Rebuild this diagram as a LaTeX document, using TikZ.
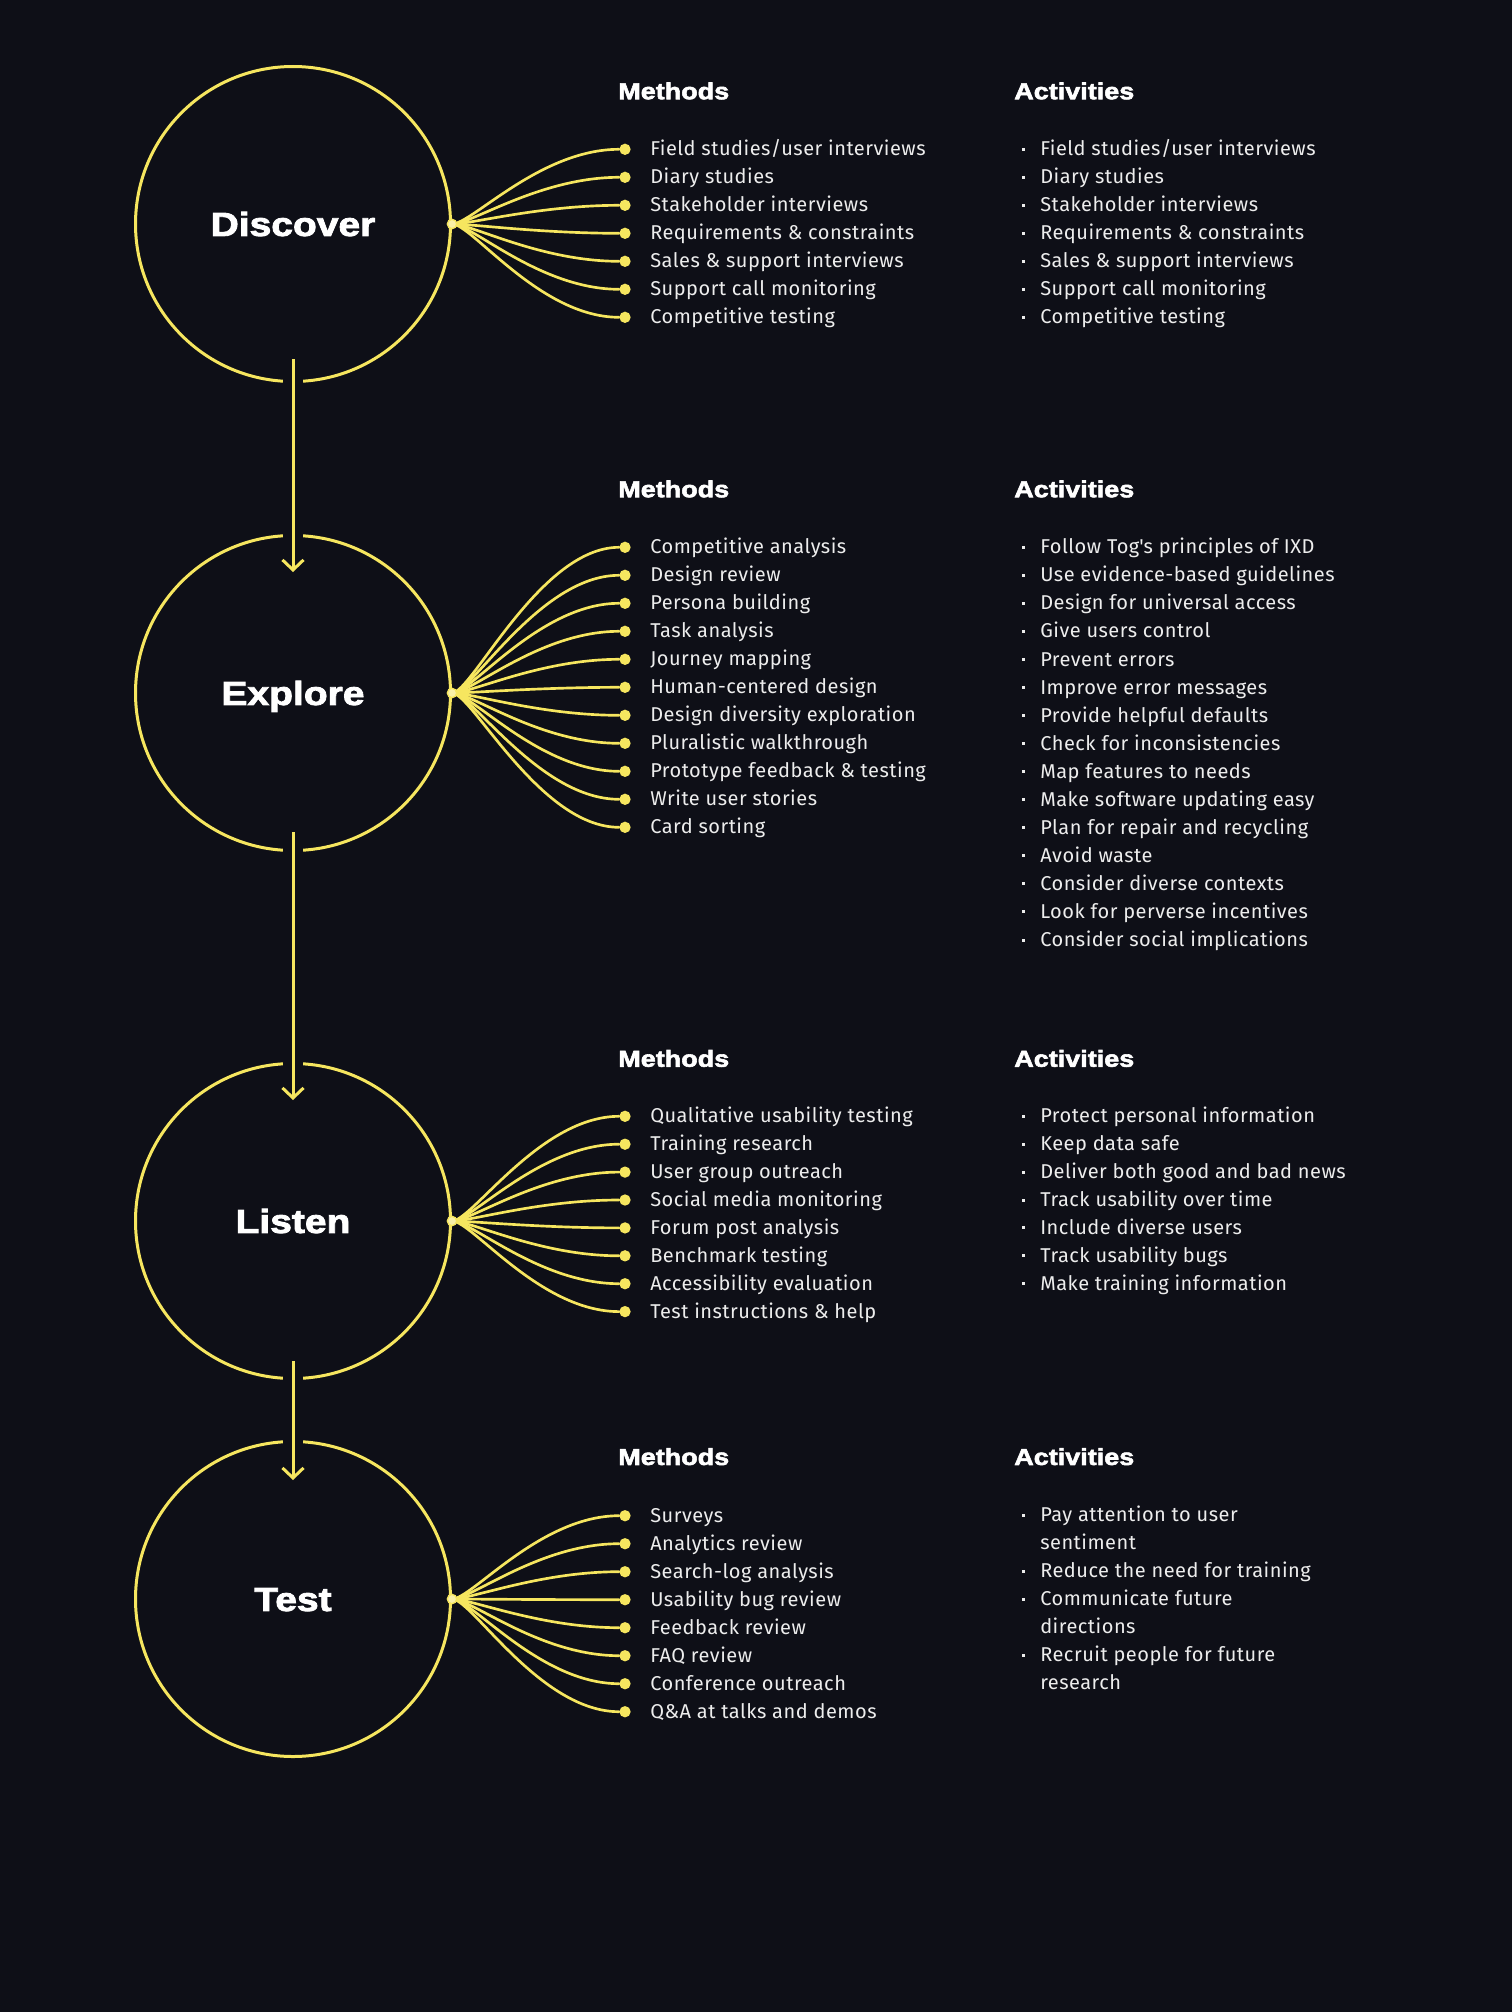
\documentclass[tikz,border=0pt]{standalone}
\usepackage{fontspec}
\setmainfont{Fira Sans}[LetterSpace=2.5]
\newfontfamily\headfont{Liberation Sans}[FakeStretch=1.17, BoldFeatures={FakeBold=2.5}]
\usetikzlibrary{arrows.meta}
\definecolor{bg}{HTML}{0E0F17}
\definecolor{ylw}{HTML}{F6E65F}
\definecolor{txt}{HTML}{EDEDED}
\newcommand\titlefont{\headfont\bfseries\fontsize{25}{30}\selectfont}
\newcommand\hdrfont{\headfont\bfseries\fontsize{17.3}{20}\selectfont}
\newcommand\itemfont{\fontsize{15}{18}\selectfont}
\tikzset{
  ring/.style={circle, draw=ylw, line width=2.25pt, minimum size=236.25pt, inner sep=0pt,
    text=white, font=\titlefont, text height=17.9pt, text depth=0pt},
  hdr/.style={anchor=west, inner sep=0pt, text=white, font=\hdrfont},
  item/.style={anchor=base west, inner sep=0pt, text=txt, font=\itemfont},
  mdot/.style={circle, fill=ylw, inner sep=0pt, minimum size=8.5pt},
  odot/.style={circle, fill=ylw!55!white, draw=ylw, line width=1pt, inner sep=0pt, minimum size=7pt},
  fan/.style={draw=ylw, line width=2pt, line cap=round},
  flow/.style={draw=ylw, line width=2.25pt, -{Straight Barb[length=7.5pt,width=15.75pt]}},
  gapline/.style={draw=bg, line width=15pt},
  bul/.style={fill=txt},
}
\newcommand\fanlist[5]{% #1 prefix, #2 origin, #3 y0, #4 step, #5 list
  \foreach \t [count=\i] in {#5} {
    \pgfmathsetmacro\yy{#3+#4*(\i-1)}
    \node[mdot] (#1d\i) at (625,\yy) {};
    \node[item] (#1t\i) at (650,\yy+6.5) {\t};
    \draw[fan] (#2) .. controls +(20,0) and +(-85,0) .. (#1d\i);
  }
}
\newcommand\actlist[4]{% #1 prefix, #2 y0, #3 step, #4 list
  \foreach \t [count=\i] in {#4} {
    \pgfmathsetmacro\yy{#2+#3*(\i-1)}
    \fill[bul] (1021.5,\yy-1.5) rectangle +(3,3);
    \node[item] (#1a\i) at (1040,\yy+6.5) {\t};
  }
}
\begin{document}
\begin{tikzpicture}[x=0.75pt,y=-0.75pt]
\fill[bg] (0,0) rectangle (1512,2012);
\useasboundingbox (0,0) rectangle (1512,2012);

% circles
\node[ring] (dis) at (293,224) {Discover};
\node[ring] (exp) at (293,693) {Explore};
\node[ring] (lis) at (293,1221) {Listen};
\node[ring] (tst) at (293,1599) {Test};

% flow arrows
\coordinate (f1s) at (293,359);  \coordinate (f1e) at (293,572);
\coordinate (f2s) at (293,832);  \coordinate (f2e) at (293,1100);
\coordinate (f3s) at (293,1361); \coordinate (f3e) at (293,1480);
\draw[gapline] (f1s) -- (f1e);
\draw[gapline] (f2s) -- (f2e);
\draw[gapline] (f3s) -- (f3e);
\draw[flow] (f1s) -- (f1e);
\draw[flow] (f2s) -- (f2e);
\draw[flow] (f3s) -- (f3e);

% origins
\coordinate (do) at (dis.east);
\coordinate (eo) at (exp.east);
\coordinate (lo) at (lis.east);
\coordinate (to) at (tst.east);

% headers
\node[hdr] (dmh) at (618,91) {Methods};
\node[hdr] (dah) at (1014,91) {Activities};
\node[hdr] (emh) at (618,489) {Methods};
\node[hdr] (eah) at (1014,489) {Activities};
\node[hdr] (lmh) at (618,1058.5) {Methods};
\node[hdr] (lah) at (1014,1058.5) {Activities};
\node[hdr] (tmh) at (618,1456.7) {Methods};
\node[hdr] (tah) at (1014,1456.7) {Activities};

% Discover
\fanlist{dm}{do}{149.3}{28}{{Field studies/user interviews},{Diary studies},{Stakeholder interviews},{Requirements \& constraints},{Sales \& support interviews},{Support call monitoring},{Competitive testing}}
\actlist{dx}{149.3}{28}{{Field studies/user interviews},{Diary studies},{Stakeholder interviews},{Requirements \& constraints},{Sales \& support interviews},{Support call monitoring},{Competitive testing}}

% Explore
\fanlist{em}{eo}{547.3}{28}{{Competitive analysis},{Design review},{Persona building},{Task analysis},{Journey mapping},{Human-centered design},{Design diversity exploration},{Pluralistic walkthrough},{Prototype feedback \& testing},{Write user stories},{Card sorting}}
\actlist{ex}{547.3}{28.05}{{Follow Tog\textquotesingle s principles of IXD},{Use evidence-based guidelines},{Design for universal access},{Give users control},{Prevent errors},{Improve error messages},{Provide helpful defaults},{Check for inconsistencies},{Map features to needs},{Make software updating easy},{Plan for repair and recycling},{Avoid waste},{Consider diverse contexts},{Look for perverse incentives},{Consider social implications}}

% Listen
\fanlist{lm}{lo}{1116.3}{27.9}{{Qualitative usability testing},{Training research},{User group outreach},{Social media monitoring},{Forum post analysis},{Benchmark testing},{Accessibility evaluation},{Test instructions \& help}}
\actlist{lx}{1116.3}{27.9}{{Protect personal information},{Keep data safe},{Deliver both good and bad news},{Track usability over time},{Include diverse users},{Track usability bugs},{Make training information}}

% Test
\fanlist{tm}{to}{1515.7}{28}{{Surveys},{Analytics review},{Search-log analysis},{Usability bug review},{Feedback review},{FAQ review},{Conference outreach},{Q\&A at talks and demos}}
\fill[bul] (1021.5,1513.5) rectangle +(3,3);
\node[item] (tx1) at (1040,1521.5) {Pay attention to user};
\node[item] (tx1b) at (1040,1549.5) {sentiment};
\fill[bul] (1021.5,1569.5) rectangle +(3,3);
\node[item] (tx2) at (1040,1577.5) {Reduce the need for training};
\fill[bul] (1021.5,1597.5) rectangle +(3,3);
\node[item] (tx3) at (1040,1605.5) {Communicate future};
\node[item] (tx3b) at (1040,1633.5) {directions};
\fill[bul] (1021.5,1653.5) rectangle +(3,3);
\node[item] (tx4) at (1040,1661.5) {Recruit people for future};
\node[item] (tx4b) at (1040,1689.5) {research};

% origin dots on top
\node[odot] (dov) at (do) {};
\node[odot] (eov) at (eo) {};
\node[odot] (lov) at (lo) {};
\node[odot] (tov) at (to) {};
\end{tikzpicture}
\end{document}
